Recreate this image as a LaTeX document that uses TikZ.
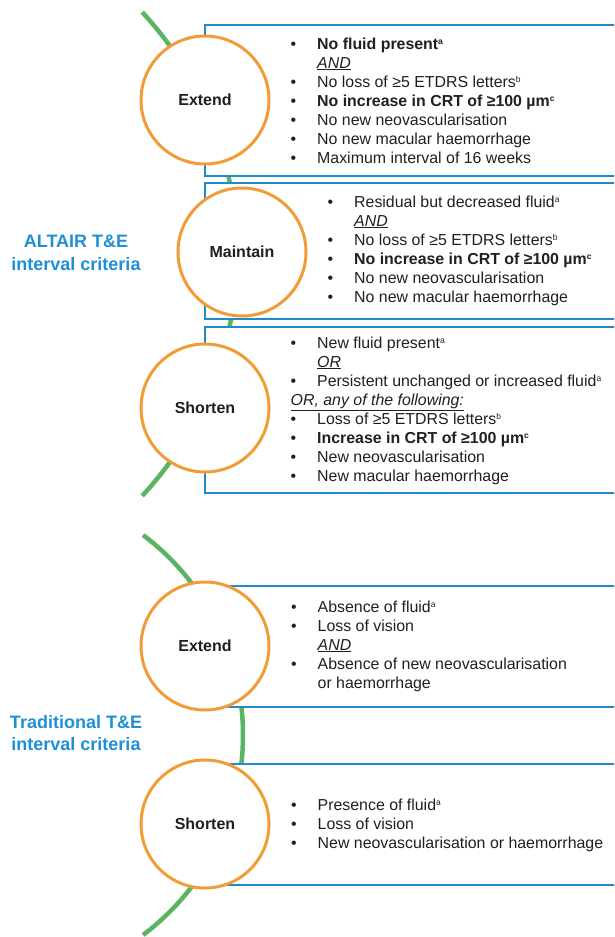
\documentclass[tikz,border=0pt]{standalone}
\usepackage{fontspec}
\setmainfont{Liberation Sans}
\definecolor{boxblue}{RGB}{31,138,204}
\definecolor{titleblue}{RGB}{30,144,214}
\definecolor{ringorange}{RGB}{242,156,56}
\definecolor{arcgreen}{RGB}{90,180,98}
\definecolor{ink}{RGB}{35,31,32}
\newcommand\bul{\makebox[26.5pt][l]{\textbullet}}
\newcommand\ind{\hspace*{26.5pt}}
\newcommand\und[1]{\underline{\textit{#1}}}
\newcommand\fn[1]{\raisebox{4.6pt}{\fontsize{8.5}{8.5}\selectfont#1}}
\tikzset{
  stage/.style={circle,draw=ringorange,line width=3pt,fill=white,minimum size=128pt,
    inner sep=0pt,font=\fontsize{16}{19}\selectfont\bfseries,text=ink},
  crit/.style={anchor=base west,align=left,inner sep=0pt,
    font=\fontsize{15.9}{19}\selectfont,text=ink},
  critbox/.style={draw=boxblue,line width=2pt,fill=white},
  title/.style={anchor=north,align=center,inner sep=0pt,
    font=\fontsize{18}{22.5}\selectfont\bfseries,text=titleblue},
  track/.style={draw=arcgreen,line width=4.5pt}
}
\begin{document}
\begin{tikzpicture}[x=1pt,y=1pt]
  \useasboundingbox (0,0) rectangle (614,-937);
  \clip (0,0) rectangle (614,-937);
  % green tracks behind everything
  \draw[track] (-119,-254) ++(42.8:356) arc[start angle=42.8,end angle=-42.8,radius=356];
  \draw[track] (-7,-735) ++(53.1:250) arc[start angle=53.1,end angle=-53.1,radius=250];
  % ALTAIR boxes
  \draw[critbox] (205,-25) rectangle (620,-176);
  \draw[critbox] (205,-183) rectangle (620,-319);
  \draw[critbox] (205,-327) rectangle (620,-493);
  % traditional boxes
  \draw[critbox] (205,-586) rectangle (620,-707);
  \draw[critbox] (205,-764) rectangle (620,-885);
  \node[stage] (ext) at (205,-100) {Extend};
  \node[stage] (maint) at (242,-252) {Maintain};
  \node[stage] (short) at (205,-408) {Shorten};
  \node[stage] (extb) at (205,-646) {Extend};
  \node[stage] (shortb) at (205,-824) {Shorten};
  \node[title] (altair) at (76,-235) {ALTAIR T\&E\\interval criteria};
  \node[title] (trad) at (76,-715) {Traditional T\&E\\interval criteria};
  % lists sit on the baseline of their last line
  \node[crit] (extlist) at (290.5,-163) {%
    \bul\textbf{No fluid present\fn{a}}\\
    \ind\und{AND}\\
    \bul No loss of ≥5 ETDRS letters\fn{b}\\
    \bul\textbf{No increase in CRT of ≥100 µm\fn{c}}\\
    \bul No new neovascularisation\\
    \bul No new macular haemorrhage\\
    \bul Maximum interval of 16 weeks};
  \node[crit] (maintlist) at (327.5,-302) {%
    \bul Residual but decreased fluid\fn{a}\\
    \ind\und{AND}\\
    \bul No loss of ≥5 ETDRS letters\fn{b}\\
    \bul\textbf{No increase in CRT of ≥100 µm\fn{c}}\\
    \bul No new neovascularisation\\
    \bul No new macular haemorrhage};
  \node[crit] (shortlist) at (290.5,-481) {%
    \bul New fluid present\fn{a}\\
    \ind\und{OR}\\
    \bul Persistent unchanged or increased fluid\fn{a}\\
    \und{OR, any of the following:}\\
    \bul Loss of ≥5 ETDRS letters\fn{b}\\
    \bul\textbf{Increase in CRT of ≥100 µm\fn{c}}\\
    \bul New neovascularisation\\
    \bul New macular haemorrhage};
  \node[crit] (extblist) at (291,-688) {%
    \bul Absence of fluid\fn{a}\\
    \bul Loss of vision\\
    \ind\und{AND}\\
    \bul Absence of new neovascularisation\\
    \ind or haemorrhage};
  \node[crit] (shortblist) at (291,-848) {%
    \bul Presence of fluid\fn{a}\\
    \bul Loss of vision\\
    \bul New neovascularisation or haemorrhage};
\end{tikzpicture}
\end{document}
